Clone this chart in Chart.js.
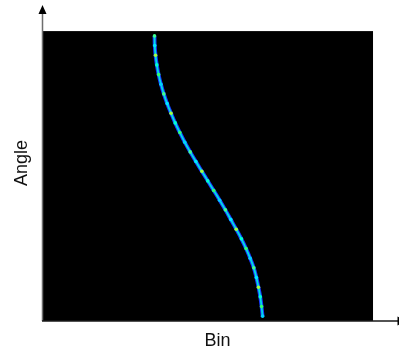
<!DOCTYPE html>
<html>
<head>
<meta charset="utf-8">
<script src="https://cdn.jsdelivr.net/npm/chart.js@4/dist/chart.umd.min.js"></script>
<style>
html,body{margin:0;padding:0;background:#fff;}
#wrap{width:399px;height:352px;}
</style>
</head>
<body>
<div id="wrap"><canvas id="c" width="399" height="352"></canvas></div>
<script>
// Data
const binCount = 128;        // detector bins (black image width)
const angleMax = 180;        // angle range (black image height)
const xAxisEnd = 136.5;      // horizontal scale extent in bins
const yAxisEnd = 196.2;      // vertical arrow extent in degrees
const angles = [177,171,165,159,153,147,141,135,129,123,117,111,105,99,93,87,81,75,69,63,57,51,45,39,33,27,21,15,9,3];
const bins   = [43.5,43.6,43.9,44.4,45.1,46.0,47.1,48.4,49.9,51.5,53.3,55.2,57.3,59.5,61.8,64.1,66.4,68.7,70.9,73.0,75.1,77.1,78.9,80.5,81.9,82.9,83.7,84.4,84.9,85.3];
const xTitle = "Bin";
const yTitle = "Angle";

const jet = ['#40ff90','#00e8ff','#a0ff40','#00ffd0','#30ff70','#00d0ff'];

const frame = {
  id: 'frame',
  beforeDatasetsDraw(chart) {
    const {ctx, scales: {x, y}} = chart;
    ctx.save();
    ctx.fillStyle = '#000';
    const x0 = x.getPixelForValue(0) + 1, x1 = x.getPixelForValue(binCount);
    const y0 = y.getPixelForValue(angleMax), y1 = y.getPixelForValue(0);
    ctx.fillRect(x0, y0, x1 - x0, y1 - y0);
    ctx.restore();
  },
  afterDatasetsDraw(chart) {
    const {ctx, chartArea: a} = chart;
    const W = chart.width;
    ctx.save();
    // vertical axis
    ctx.strokeStyle = '#6e6e6e';
    ctx.lineWidth = 1.5;
    ctx.beginPath(); ctx.moveTo(a.left + 0.5, a.bottom); ctx.lineTo(a.left + 0.5, a.top + 8); ctx.stroke();
    ctx.fillStyle = '#000';
    ctx.beginPath(); ctx.moveTo(a.left + 0.5, a.top); ctx.lineTo(a.left - 3.5, a.top + 9); ctx.lineTo(a.left + 4.5, a.top + 9); ctx.closePath(); ctx.fill();
    // horizontal axis
    ctx.strokeStyle = '#1a1a1a';
    ctx.beginPath(); ctx.moveTo(a.left, a.bottom); ctx.lineTo(W, a.bottom); ctx.stroke();
    ctx.beginPath(); ctx.moveTo(W - 1.5, a.bottom - 4.5); ctx.lineTo(W + 7.5, a.bottom); ctx.lineTo(W - 1.5, a.bottom + 4.5); ctx.closePath(); ctx.fill();
    // titles
    ctx.fillStyle = '#111';
    ctx.font = '18px "Liberation Sans", Arial, sans-serif';
    ctx.textAlign = 'center';
    ctx.textBaseline = 'middle';
    ctx.fillText(xTitle, (a.left + W) / 2 - 3, a.bottom + 20);
    ctx.translate(22.5, (a.top + a.bottom) / 2);
    ctx.rotate(-Math.PI / 2);
    ctx.fillText(yTitle, 0, 0);
    ctx.restore();
  }
};

const pts = angles.map((a, i) => ({x: bins[i], y: a}));

new Chart(document.getElementById('c'), {
  type: 'line',
  data: {
    datasets: [{
      data: pts,
      borderColor: '#00e0e0',
      borderWidth: 1.8,
      tension: 0.4,
      pointRadius: 1.8,
      pointBorderWidth: 0,
      pointBackgroundColor: angles.map((_, i) => jet[i % jet.length]),
      fill: false
    }, {
      data: pts,
      borderColor: '#1838ff',
      borderWidth: 3.8,
      tension: 0.4,
      pointRadius: 0,
      fill: false
    }]
  },
  options: {
    responsive: false,
    animation: false,
    layout: {padding: {left: 42, top: 5, right: 0, bottom: 31}},
    plugins: {legend: {display: false}, tooltip: {enabled: false}},
    scales: {
      x: {type: 'linear', min: 0, max: xAxisEnd, display: false},
      y: {type: 'linear', min: 0, max: yAxisEnd, display: false}
    }
  },
  plugins: [frame]
});
</script>
</body>
</html>
